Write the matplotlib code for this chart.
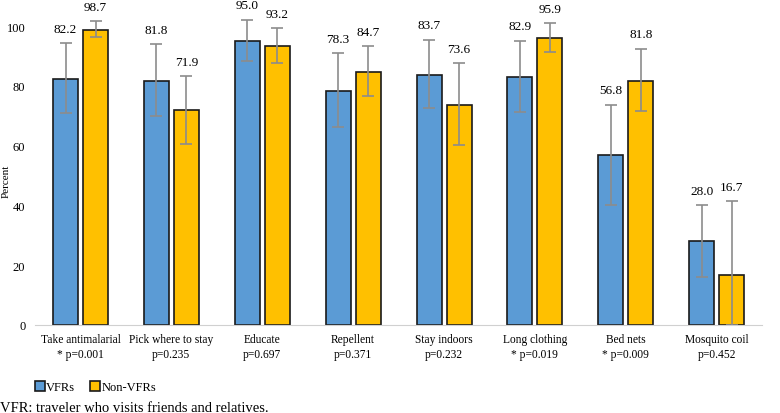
import numpy as np
import matplotlib.pyplot as plt
import matplotlib

matplotlib.rcParams['font.family'] = ['Liberation Serif', 'DejaVu Serif']
matplotlib.rcParams['font.size'] = 8

# data
categories = ['Take antimalarial\n* p=0.001', 'Pick where to stay\np=0.235', 'Educate\np=0.697',
              'Repellent\np=0.371', 'Stay indoors\np=0.232', 'Long clothing\n* p=0.019',
              'Bed nets\n* p=0.009', 'Mosquito coil\np=0.452']
vfr = [82.2, 81.8, 95.0, 78.3, 83.7, 82.9, 56.8, 28.0]
vfr_lo = [70.9, 70.0, 88.2, 66.1, 72.6, 71.1, 40.1, 16.0]
vfr_hi = [94.3, 94.0, 102.2, 91.0, 95.5, 95.1, 73.7, 40.1]
non_vfr = [98.7, 71.9, 93.2, 84.7, 73.6, 95.9, 81.8, 16.7]
non_lo = [96.3, 60.5, 87.5, 76.5, 60.2, 91.5, 71.5, 0.0]
non_hi = [101.7, 83.3, 99.3, 93.4, 87.5, 100.9, 92.5, 41.5]

blue = '#5B9BD5'
gold = '#FFC000'

fig = plt.figure(figsize=(7.8, 4.14), dpi=100)
ax = fig.add_axes([0.045, 0.2126, 0.932, 0.758])

x = np.arange(len(categories))
w = 0.275
off = 0.165

for vals, lo, hi, col, sgn, name in [(vfr, vfr_lo, vfr_hi, blue, -1, 'VFRs'),
                                     (non_vfr, non_lo, non_hi, gold, 1, 'Non-VFRs')]:
    vals = np.array(vals)
    yerr = [vals - np.array(lo), np.array(hi) - vals]
    ax.bar(x + sgn * off, vals, w, color=col, edgecolor='#1a1a1a', linewidth=1.2, label=name)
    ax.errorbar(x + sgn * off, vals, yerr=yerr, fmt='none', ecolor='#8c8c8c',
                elinewidth=1.2, capsize=4, capthick=1.2, clip_on=False)
    for xi, h, v in zip(x, hi, vals):
        ax.annotate(f'{v:.1f}', (xi + sgn * off, h), xytext=(0, 6), textcoords='offset points',
                    ha='center', va='bottom', fontsize=9.5, annotation_clip=False)

ax.set_xlim(-0.5, len(categories) - 0.5)
ax.set_ylim(0, 105)
ax.set_yticks([0, 20, 40, 60, 80, 100])
ax.set_xticks(x)
ax.set_xticklabels(categories, fontsize=8.3, linespacing=1.3)
ax.tick_params(axis='both', length=0, pad=6)
ax.tick_params(axis='y', labelsize=9, pad=7)
for s in ['top', 'right', 'left']:
    ax.spines[s].set_visible(False)
ax.spines['bottom'].set_color('#d0d0d0')
ax.set_ylabel('Percent', fontsize=8)
ax.yaxis.set_label_coords(-0.034, 0.462)

fig.legend(loc='lower left', bbox_to_anchor=(0.03, 0.02), ncol=2, frameon=False, fontsize=9,
           handlelength=0.8, handleheight=0.8, handletextpad=0.1, columnspacing=1.2)
fig.text(0.0, 0.005, 'VFR: traveler who visits friends and relatives.', fontsize=10.5)

plt.savefig('out.png', dpi=100)
